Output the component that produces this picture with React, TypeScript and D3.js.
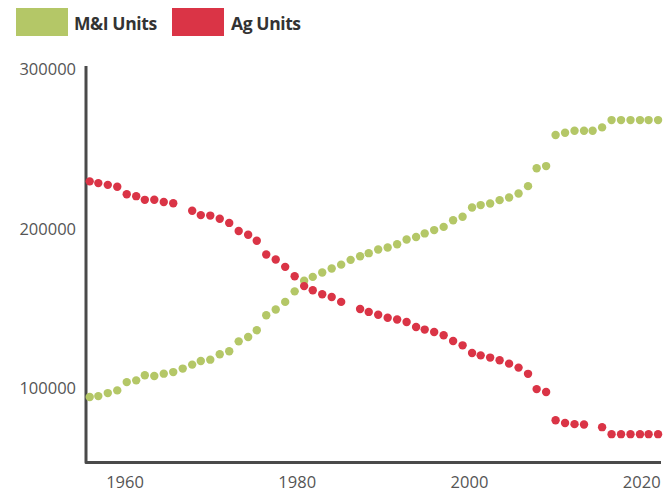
import React from "react";
import * as d3 from "d3";

const years = [
  1955.9, 1956.9, 1958.0, 1959.1, 1960.2, 1961.3, 1962.3, 1963.4, 1964.5, 1965.6,
  1966.7, 1967.8, 1968.8, 1969.9, 1971.0, 1972.1, 1973.2, 1974.3, 1975.3, 1976.4,
  1977.5, 1978.6, 1979.7, 1980.8, 1981.8, 1982.9, 1984.0, 1985.1, 1986.2, 1987.3,
  1988.3, 1989.4, 1990.5, 1991.6, 1992.7, 1993.8, 1994.8, 1995.9, 1997.0, 1998.1,
  1999.2, 2000.3, 2001.3, 2002.4, 2003.5, 2004.6, 2005.7, 2006.8, 2007.8, 2008.9,
  2010.0, 2011.1, 2012.2, 2013.3, 2014.3, 2015.4, 2016.5, 2017.6, 2018.7, 2019.8,
  2020.8, 2021.9,
];

const miUnits = [
  93900, 94500, 96400, 98100, 103300, 104400, 107600, 107100, 108600, 109600,
  111800, 114300, 116600, 117400, 120800, 122700, 128900, 131600, 135900, 145300,
  148900, 153700, 160300, 167000, 169400, 172200, 174700, 177100, 180100, 182400,
  184300, 186600, 187900, 189900, 192900, 194500, 196700, 198800, 200800, 205000,
  207200, 213000, 214500, 215500, 217600, 219300, 221800, 226400, 237600, 239000,
  258500, 259900, 261200, 261200, 261200, 263300, 267900, 267900, 267900, 267900,
  267900, 267900,
];

const agUnits: (number | null)[] = [
  229400, 228300, 227200, 226000, 221300, 220100, 217800, 217900, 216400, 215700,
  null, 210900, 208200, 207900, 205900, 203300, 198200, 195900, 192100, 183500,
  180300, 175700, 169800, 163600, 161000, 158500, 156800, 153700, null, 149200,
  147400, 145600, 143700, 142600, 141100, 137900, 136300, 134800, 132700, 129100,
  126400, 121600, 120100, 118700, 117000, 114900, 112400, 108500, 98900, 97100,
  79300, 77600, 76900, 76700, null, 75000, 70600, 70600, 70600, 70600,
  70600, 70600,
];

const xTicks = [1960, 1980, 2000, 2020];
const yTicks = [100000, 200000, 300000];

const seriesNames = ["M&I Units", "Ag Units"];
const seriesColors = ["#b4c767", "#da3446"];

const W = 666;
const H = 491;

export default function App() {
  const x = d3.scaleLinear().domain([1955.47, 2022.24]).range([86, 661]);
  const y = d3.scaleLinear().domain([52800, 302500]).range([462.5, 65]);

  const miPts = years.map((yr, i) => ({ yr, v: miUnits[i] }));
  const agPts = years
    .map((yr, i) => ({ yr, v: agUnits[i] }))
    .filter((d) => d.v !== null) as { yr: number; v: number }[];

  const [x0, x1] = x.range();
  const [y0, y1] = y.range();
  const axisPath = `M${x0},${y1 + 1}L${x0},${y0}L${x1},${y0}`;

  const font = "'Open Sans', 'DejaVu Sans', sans-serif";

  return (
    <svg
      width={W}
      height={H}
      style={{ position: "absolute", left: 0, top: 0, background: "#fff" }}
    >
      {/* legend */}
      <g>
        <rect x={16} y={8} width={52} height={28} fill={seriesColors[0]} />
        <text
          x={74}
          y={23}
          dominantBaseline="central"
          fontFamily={font}
          fontWeight={700}
          fontSize={17.5}
          fill="#333"
          letterSpacing={-0.4}
        >
          {seriesNames[0]}
        </text>
        <rect x={172} y={8} width={52} height={28} fill={seriesColors[1]} />
        <text
          x={231}
          y={23}
          dominantBaseline="central"
          fontFamily={font}
          fontWeight={700}
          fontSize={17.5}
          fill="#333"
          letterSpacing={-0.4}
        >
          {seriesNames[1]}
        </text>
      </g>

      {/* y tick labels */}
      {yTicks.map((t) => (
        <text
          key={t}
          x={x0 - 10}
          y={y(t)}
          textAnchor="end"
          dominantBaseline="central"
          fontFamily={font}
          fontSize={16.5}
          fill="#555"
        >
          {t}
        </text>
      ))}

      {/* x tick labels */}
      {xTicks.map((t) => (
        <text
          key={t}
          x={x(t)}
          y={481}
          textAnchor="middle"
          dominantBaseline="central"
          fontFamily={font}
          fontSize={16.5}
          fill="#555"
        >
          {t}
        </text>
      ))}

      {/* axes */}
      <path
        d={axisPath}
        fill="none"
        stroke="#4a4a4a"
        strokeWidth={3}
        strokeLinejoin="round"
      />

      {/* points */}
      <g fill={seriesColors[0]}>
        {miPts.map((d, i) => (
          <circle key={i} cx={x(d.yr)} cy={y(d.v)} r={4.2} />
        ))}
      </g>
      <g fill={seriesColors[1]}>
        {agPts.map((d, i) => (
          <circle key={i} cx={x(d.yr)} cy={y(d.v)} r={4.2} />
        ))}
      </g>
    </svg>
  );
}
